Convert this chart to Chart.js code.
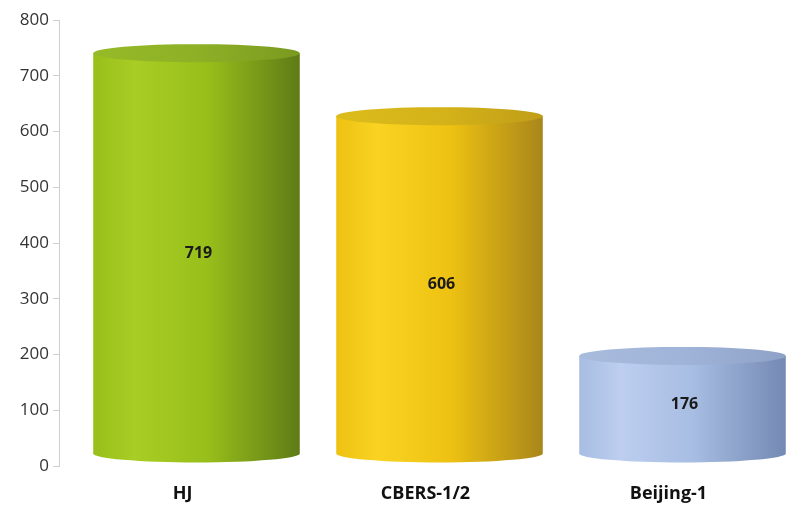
<!DOCTYPE html>
<html>
<head>
<meta charset="utf-8">
<script src="https://cdn.jsdelivr.net/npm/chart.js@4"></script>
<style>
  html, body { margin: 0; padding: 0; background: #fff; }
  #wrap { width: 788px; height: 506px; }
</style>
</head>
<body>
<div id="wrap"><canvas id="chart"></canvas></div>
<script>
const categories = ['HJ', 'CBERS-1/2', 'Beijing-1'];
const counts = [719, 606, 176];
const yTicks = [0, 100, 200, 300, 400, 500, 600, 700, 800];

// left colour, highlight, right colour per cylinder body
const bodyColors = [
    ['#98bf1a', '#a8cd24', '#5e7b17'],
    ['#eec212', '#f9d322', '#a9861a'],
    ['#a7bde2', '#bdcef0', '#7489b3']
];
// colours of the top ellipse
const topColors = [
    ['#96ba28', '#8eb026', '#7a9a20'],
    ['#dcbb1c', '#d4b31a', '#c09e18'],
    ['#a8bbdd', '#a0b4d9', '#8ea2c8']
];

// 3D offset of the cylinders relative to the plotted values
const depthX = 16, depthY = -12, ellipseRy = 9;

const cylinderPlugin = {
    id: 'cylinders',
    afterDatasetsDraw(chart) {
        const ctx = chart.ctx;
        const meta = chart.getDatasetMeta(0);
        meta.data.forEach((bar, i) => {
            const cx = bar.x + depthX;
            const rx = bar.width / 2;
            const top = bar.y + depthY;
            const bottom = bar.base + depthY;
            const bc = bodyColors[i], tc = topColors[i];

            const g = ctx.createLinearGradient(cx - rx, 0, cx + rx, 0);
            g.addColorStop(0, bc[0]);
            g.addColorStop(0.2, bc[1]);
            g.addColorStop(0.55, bc[0]);
            g.addColorStop(1, bc[2]);

            ctx.save();
            ctx.beginPath();
            ctx.moveTo(cx - rx, top);
            ctx.lineTo(cx - rx, bottom);
            ctx.ellipse(cx, bottom, rx, ellipseRy, 0, Math.PI, 0, true);
            ctx.lineTo(cx + rx, top);
            ctx.closePath();
            ctx.fillStyle = g;
            ctx.fill();

            const tg = ctx.createLinearGradient(cx - rx, 0, cx + rx, 0);
            tg.addColorStop(0, tc[0]);
            tg.addColorStop(0.5, tc[1]);
            tg.addColorStop(1, tc[2]);
            ctx.beginPath();
            ctx.ellipse(cx, top, rx, ellipseRy, 0, 0, Math.PI * 2);
            ctx.fillStyle = tg;
            ctx.fill();

            ctx.fillStyle = '#1a1a1a';
            ctx.font = 'bold 16px "Open Sans", sans-serif';
            ctx.textAlign = 'center';
            ctx.textBaseline = 'middle';
            ctx.fillText(String(counts[i]), cx + 2, (top + bottom) / 2);
            ctx.restore();
        });
    }
};

new Chart(document.getElementById('chart'), {
    type: 'bar',
    data: {
        labels: categories,
        datasets: [{ data: counts, backgroundColor: 'rgba(0,0,0,0)', borderWidth: 0, categoryPercentage: 0.85, barPercentage: 1 }]
    },
    options: {
        responsive: true,
        maintainAspectRatio: false,
        animation: false,
        layout: { padding: { top: 20, left: 18, right: 0, bottom: 2 } },
        plugins: { legend: { display: false }, tooltip: { enabled: false } },
        scales: {
            x: {
                afterFit: axis => { axis.height = 38; },
                grid: { display: false, drawTicks: false },
                border: { display: false },
                ticks: { color: '#111', padding: 17, labelOffset: 2, font: { family: 'Open Sans', size: 18, weight: 'bold' } }
            },
            y: {
                min: 0, max: 800,
                afterBuildTicks: axis => { axis.ticks = yTicks.map(v => ({ value: v })); },
                afterFit: axis => { axis.width = 41; },
                grid: { drawOnChartArea: false, tickLength: 6, color: '#cfcfcf' },
                border: { color: '#cfcfcf' },
                ticks: { color: '#333', padding: 4, font: { family: 'Open Sans', size: 17 } }
            }
        }
    },
    plugins: [cylinderPlugin]
});
</script>
</body>
</html>
